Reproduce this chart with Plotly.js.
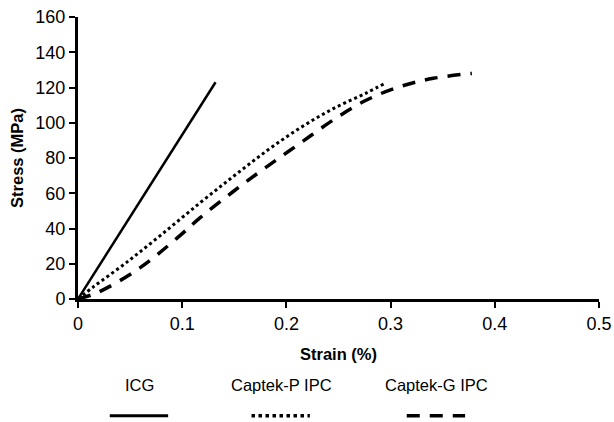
<!DOCTYPE html>
<html>
<head>
<meta charset="utf-8">
<script src="https://cdn.plot.ly/plotly-3.0.1.min.js"></script>
<style>html,body{margin:0;padding:0;background:#fff;}#chart{width:614px;height:422px;}</style>
</head>
<body>
<div id="chart"></div>
<script>
// Data
const seriesNames = ["ICG", "Captek-P IPC", "Captek-G IPC"];
const icgStrain = [0, 0.132];
const icgStress = [0, 123];
const captekPStrain = [0, 0.015, 0.046, 0.08, 0.117, 0.149, 0.181, 0.213, 0.245, 0.277, 0.295];
const captekPStress = [0, 7, 20.5, 36.5, 54.5, 69.5, 84, 97, 108, 117, 122.5];
const captekGStrain = [0, 0.02, 0.059, 0.095, 0.117, 0.149, 0.181, 0.213, 0.245, 0.277, 0.309, 0.341, 0.378];
const captekGStress = [0, 4, 17.5, 34.5, 46, 61, 75, 88.3, 101.6, 112.9, 120.5, 125.2, 128];
const xTicks = [0, 0.1, 0.2, 0.3, 0.4, 0.5];
const yTicks = [0, 20, 40, 60, 80, 100, 120, 140, 160];

const font = {family: "Liberation Sans, Arial, sans-serif", color: "#000"};
const dashes = ["solid", "dot", "dash"];

const traces = [
  {x: icgStrain, y: icgStress, name: seriesNames[0], mode: "lines",
   line: {color: "#000", width: 2.5, dash: dashes[0]}},
  {x: captekPStrain, y: captekPStress, name: seriesNames[1], mode: "lines",
   line: {color: "#000", width: 3, dash: dashes[1], shape: "spline", smoothing: 1}},
  {x: captekGStrain, y: captekGStress, name: seriesNames[2], mode: "lines",
   line: {color: "#000", width: 3.5, dash: "13px,10px", shape: "spline", smoothing: 1}}
];

// custom legend: text above line sample
const legendX = [0.118, 0.39, 0.688];
const annotations = seriesNames.map((n, i) => ({
  text: n, xref: "paper", yref: "paper", x: legendX[i], y: -0.305,
  xanchor: "center", yanchor: "middle", showarrow: false,
  font: Object.assign({size: 16.5}, font)
}));
const shapes = seriesNames.map((n, i) => ({
  type: "line", xref: "paper", yref: "paper",
  x0: legendX[i] - 0.057, x1: legendX[i] + 0.055, y0: -0.414, y1: -0.414,
  line: {color: "#000", width: i === 0 ? 3 : 3.5, dash: i === 2 ? "13px,10px" : dashes[i]}
}));

const layout = {
  width: 614, height: 422,
  margin: {l: 78, r: 15, t: 17, b: 123},
  paper_bgcolor: "#fff", plot_bgcolor: "#fff",
  showlegend: false,
  font: Object.assign({size: 17}, font),
  xaxis: {
    range: [0, 0.5], tickvals: xTicks, ticktext: xTicks.map(String),
    showgrid: false, zeroline: false, showline: true, linecolor: "#000", linewidth: 3,
    ticks: "outside", ticklen: 6, tickwidth: 2, tickcolor: "#000",
    tickfont: Object.assign({size: 18}, font),
    title: {text: "<b>Strain (%)</b>", standoff: 16, font: Object.assign({size: 16.5}, font)}
  },
  yaxis: {
    range: [0, 160], tickvals: yTicks, ticktext: yTicks.map(String),
    showgrid: false, zeroline: false, showline: true, linecolor: "#000", linewidth: 3,
    ticks: "outside", ticklen: 6, tickwidth: 2, tickcolor: "#000",
    tickfont: Object.assign({size: 18}, font),
    title: {text: "<b>Stress (MPa)</b>", standoff: 8, font: Object.assign({size: 16.5}, font)}
  },
  annotations: annotations,
  shapes: shapes
};

Plotly.newPlot("chart", traces, layout, {staticPlot: true, displayModeBar: false});
</script>
</body>
</html>
